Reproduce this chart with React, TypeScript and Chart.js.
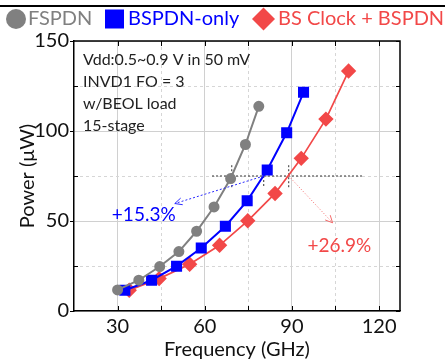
import { useEffect, useRef } from 'react';
import { Chart, registerables } from 'chart.js';

Chart.register(...registerables);

const seriesNames = ['FSPDN', 'BSPDN-only', 'BS Clock + BSPDN'];
const seriesColors = ['#808080', '#0000ff', '#f24848'];
const fspdnFreq = [30.0, 37.3, 44.5, 51.1, 57.2, 63.2, 68.9, 74.0, 78.6];
const fspdnPower = [11.7, 17.1, 24.7, 33.0, 44.3, 57.8, 73.6, 92.5, 113.7];
const bspdnFreq = [32.5, 41.7, 50.3, 58.8, 67.1, 74.6, 81.5, 88.2, 94.0];
const bspdnPower = [11.5, 17.1, 24.9, 35.0, 47.1, 61.2, 78.3, 99.0, 121.5];
const bsClockFreq = [34.0, 44.3, 54.8, 65.1, 74.8, 84.2, 93.2, 101.7, 109.5];
const bsClockPower = [11.5, 18.0, 26.0, 36.5, 50.1, 65.3, 84.8, 106.6, 133.3];
const xTickLabels = [30, 60, 90, 120];
const xMinorTicks = [45, 75, 105];
const yTickLabels = [0, 50, 100, 150];
const yMinorTicks = [25, 75, 125];
const refPower = 75;
const refFreqRange = [62.5, 114.5];
const crossFreq = [69.3, 80.3, 88.9];
const gainLabels = ['+15.3%', '+26.9%'];
const gainArrowEnds = [[49.7, 59.7], [104.0, 49.0]];
const gainLabelAt = [[39.0, 53.2], [106.3, 36.0]];
const noteLines = ['Vdd:0.5~0.9 V in 50 mV', 'INVD1 FO = 3', 'w/BEOL load', '15-stage'];

const FONT = 'Lato, "Open Sans", sans-serif';

function arrow(ctx: CanvasRenderingContext2D, x0: number, y0: number, x1: number, y1: number, color: string, dash: number[]) {
  ctx.save();
  ctx.strokeStyle = color;
  ctx.lineWidth = 1;
  ctx.setLineDash(dash);
  ctx.beginPath();
  ctx.moveTo(x0, y0);
  ctx.lineTo(x1, y1);
  ctx.stroke();
  ctx.setLineDash([]);
  const a = Math.atan2(y1 - y0, x1 - x0);
  const L = 8;
  ctx.beginPath();
  ctx.moveTo(x1 - L * Math.cos(a - 0.45), y1 - L * Math.sin(a - 0.45));
  ctx.lineTo(x1, y1);
  ctx.lineTo(x1 - L * Math.cos(a + 0.45), y1 - L * Math.sin(a + 0.45));
  ctx.stroke();
  ctx.restore();
}

const overlay = {
  id: 'overlay',
  beforeDatasetsDraw(chart: any) {
    const { ctx, chartArea: ca, scales } = chart;
    const xs = scales.x, ys = scales.y;
    ctx.save();
    ctx.strokeStyle = '#d6d6d6';
    ctx.lineWidth = 1;
    ctx.setLineDash([3, 3]);
    xMinorTicks.forEach((v) => {
      const px = Math.round(xs.getPixelForValue(v)) + 0.5;
      ctx.beginPath(); ctx.moveTo(px, ca.top); ctx.lineTo(px, ca.bottom); ctx.stroke();
    });
    yMinorTicks.forEach((v) => {
      const py = Math.round(ys.getPixelForValue(v)) + 0.5;
      ctx.beginPath(); ctx.moveTo(ca.left, py); ctx.lineTo(ca.right, py); ctx.stroke();
    });
    ctx.restore();

    // reference level lines
    ctx.save();
    ctx.strokeStyle = '#333';
    ctx.lineWidth = 1;
    ctx.setLineDash([2, 2]);
    const py = ys.getPixelForValue(refPower);
    ctx.beginPath();
    ctx.moveTo(xs.getPixelForValue(refFreqRange[0]), py);
    ctx.lineTo(xs.getPixelForValue(refFreqRange[1]), py);
    ctx.stroke();
    crossFreq.forEach((f, i) => {
      const px = xs.getPixelForValue(f);
      const top = i === 1 ? refPower : refPower + 6;
      ctx.beginPath();
      ctx.moveTo(px, ys.getPixelForValue(top));
      ctx.lineTo(px, ys.getPixelForValue(refPower - 6.5));
      ctx.stroke();
    });
    ctx.restore();
  },
  afterDatasetsDraw(chart: any) {
    const { ctx, chartArea: ca, scales } = chart;
    const xs = scales.x, ys = scales.y;
    // arrows
    arrow(ctx, xs.getPixelForValue(crossFreq[1]), ys.getPixelForValue(refPower),
      xs.getPixelForValue(gainArrowEnds[0][0]), ys.getPixelForValue(gainArrowEnds[0][1]), '#2a2aff', [2, 2]);
    arrow(ctx, xs.getPixelForValue(crossFreq[2]), ys.getPixelForValue(refPower),
      xs.getPixelForValue(gainArrowEnds[1][0]), ys.getPixelForValue(gainArrowEnds[1][1]), '#f46a6a', [1, 2]);
    ctx.save();
    ctx.font = '19px ' + FONT;
    ctx.textAlign = 'center';
    ctx.textBaseline = 'middle';
    ctx.fillStyle = seriesColors[1];
    ctx.fillText(gainLabels[0], xs.getPixelForValue(gainLabelAt[0][0]), ys.getPixelForValue(gainLabelAt[0][1]));
    ctx.fillStyle = seriesColors[2];
    ctx.fillText(gainLabels[1], xs.getPixelForValue(gainLabelAt[1][0]), ys.getPixelForValue(gainLabelAt[1][1]));
    ctx.restore();

    // frame and ticks
    ctx.save();
    ctx.strokeStyle = '#000';
    ctx.lineWidth = 1.5;
    ctx.beginPath();
    ctx.moveTo(ca.left, ca.top); ctx.lineTo(ca.right, ca.top); ctx.lineTo(ca.right, ca.bottom);
    ctx.stroke();
    ctx.lineWidth = 1;
    [...xTickLabels, ...xMinorTicks].forEach((v) => {
      const px = Math.round(xs.getPixelForValue(v)) + 0.5;
      ctx.beginPath(); ctx.moveTo(px, ca.bottom); ctx.lineTo(px, ca.bottom - 5); ctx.stroke();
      ctx.beginPath(); ctx.moveTo(px, ca.top); ctx.lineTo(px, ca.top + 5); ctx.stroke();
    });
    yMinorTicks.forEach((v) => {
      const p = Math.round(ys.getPixelForValue(v)) + 0.5;
      ctx.beginPath(); ctx.moveTo(ca.left, p); ctx.lineTo(ca.left + 4, p); ctx.stroke();
    });
    [...yTickLabels, ...yMinorTicks].forEach((v) => {
      const p = Math.round(ys.getPixelForValue(v)) + 0.5;
      ctx.beginPath(); ctx.moveTo(ca.right, p); ctx.lineTo(ca.right - 4, p); ctx.stroke();
    });
    ctx.restore();
  },
  afterDraw(chart: any) {
    const { ctx, chartArea: ca } = chart;
    ctx.save();
    // page rule above the figure
    ctx.fillStyle = '#000';
    ctx.fillRect(0, 5, chart.width, 2);
    // legend
    ctx.font = '20px ' + FONT;
    ctx.textBaseline = 'middle';
    const ly = 19;
    ctx.fillStyle = seriesColors[0];
    ctx.beginPath(); ctx.arc(16, ly, 10, 0, Math.PI * 2); ctx.fill();
    ctx.fillText(seriesNames[0], 28, ly);
    ctx.fillStyle = seriesColors[1];
    ctx.fillRect(105, ly - 9.5, 19, 19);
    ctx.fillText(seriesNames[1], 128, ly);
    ctx.fillStyle = seriesColors[2];
    ctx.beginPath();
    ctx.moveTo(263.5, ly - 11.5); ctx.lineTo(275, ly); ctx.lineTo(263.5, ly + 11.5); ctx.lineTo(252, ly);
    ctx.closePath(); ctx.fill();
    ctx.fillText(seriesNames[2], 278, ly);
    // notes
    ctx.fillStyle = '#222';
    ctx.font = '16px ' + FONT;
    noteLines.forEach((t, i) => ctx.fillText(t, ca.left + 9, ca.top + 19 + i * 22));
    ctx.restore();
  },
};

function toPoints(xs: number[], ys: number[]) {
  return xs.map((x, i) => ({ x, y: ys[i] }));
}

export default function App() {
  const ref = useRef<HTMLCanvasElement>(null);
  useEffect(() => {
    Chart.defaults.font.family = FONT;
    Chart.defaults.color = '#111';
    const chart = new Chart(ref.current!, {
      type: 'line',
      data: {
        datasets: [
          {
            label: seriesNames[0], data: toPoints(fspdnFreq, fspdnPower),
            borderColor: seriesColors[0], backgroundColor: seriesColors[0], borderWidth: 2,
            pointStyle: 'circle', pointRadius: 4.5, pointHoverRadius: 4.5,
          },
          {
            label: seriesNames[1], data: toPoints(bspdnFreq, bspdnPower),
            borderColor: seriesColors[1], backgroundColor: seriesColors[1], borderWidth: 2,
            pointStyle: 'rect', pointRadius: 6.4, pointHoverRadius: 6.4,
          },
          {
            label: seriesNames[2], data: toPoints(bsClockFreq, bsClockPower),
            borderColor: seriesColors[2], backgroundColor: seriesColors[2], borderWidth: 1.7,
            pointStyle: 'rectRot', pointRadius: 6.5, pointHoverRadius: 6.5,
          },
        ],
      },
      options: {
        responsive: false,
        animation: false,
        events: [],
        layout: { padding: { top: 41, right: 45, left: 0, bottom: 0 } },
        plugins: { legend: { display: false }, tooltip: { enabled: false } },
        scales: {
          x: {
            type: 'linear', min: 15, max: 127.2,
            afterBuildTicks: (s: any) => { s.ticks = xTickLabels.map((v) => ({ value: v })); },
            afterFit: (s: any) => { s.height = 49; },
            grid: { color: '#d0d0d0', lineWidth: 1, drawTicks: false },
            border: { color: '#000', width: 1.5 },
            ticks: { font: { size: 20 }, color: '#111', padding: 4, maxRotation: 0 },
            title: { display: true, text: 'Frequency (GHz)', font: { size: 20, lineHeight: 1 }, color: '#111', padding: 0 },
          },
          y: {
            type: 'linear', min: 0, max: 150,
            afterBuildTicks: (s: any) => { s.ticks = yTickLabels.map((v) => ({ value: v })); },
            afterFit: (s: any) => { s.width = 74; },
            grid: { color: '#d0d0d0', lineWidth: 1, drawTicks: true, tickLength: 4, tickColor: '#000' },
            border: { color: '#000', width: 1.5 },
            ticks: { font: { size: 20 }, color: '#111', padding: 1 },
            title: { display: true, text: 'Power (μW)', font: { size: 20, lineHeight: 1 }, color: '#111', padding: { top: 18, bottom: 0 } },
          },
        },
      },
      plugins: [overlay],
    } as any);
    return () => chart.destroy();
  }, []);
  return (
    <div style={{ position: 'absolute', left: 0, top: 0, width: 445, height: 360, background: '#fff' }}>
      <canvas ref={ref} width={445} height={360} style={{ width: 445, height: 360, display: 'block' }} />
    </div>
  );
}
